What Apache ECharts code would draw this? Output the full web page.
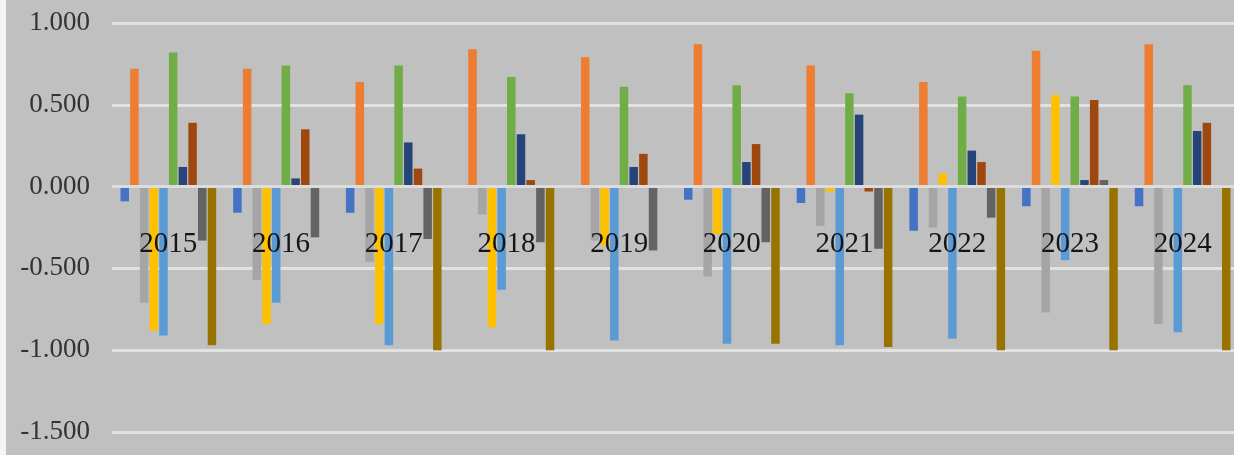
<!DOCTYPE html>
<html>
<head>
<meta charset="utf-8">
<script src="https://cdn.jsdelivr.net/npm/echarts@6/dist/echarts.min.js"></script>
<style>
  html, body { margin: 0; padding: 0; background: #c0c0c0; }
  #chart { width: 1234px; height: 455px; }
</style>
</head>
<body>
<div id="chart"></div>
<script>
// years on the category axis
var years = ['2015', '2016', '2017', '2018', '2019', '2020', '2021', '2022', '2023', '2024']
var yTicks = [-1.5, -1.0, -0.5, 0, 0.5, 1.0]

// ten series, in the order they sit in each group
var series1 = [-0.09, -0.16, -0.16, 0, 0, -0.08, -0.10, -0.27, -0.12, -0.12]
var series2 = [0.72, 0.72, 0.64, 0.84, 0.79, 0.87, 0.74, 0.64, 0.83, 0.87]
var series3 = [-0.71, -0.57, -0.46, -0.17, -0.33, -0.55, -0.24, -0.25, -0.77, -0.84]
var series4 = [-0.88, -0.84, -0.84, -0.86, -0.36, -0.29, -0.03, 0.08, 0.56, 0]
var series5 = [-0.91, -0.71, -0.97, -0.63, -0.94, -0.96, -0.97, -0.93, -0.45, -0.89]
var series6 = [0.82, 0.74, 0.74, 0.67, 0.61, 0.62, 0.57, 0.55, 0.55, 0.62]
var series7 = [0.12, 0.05, 0.27, 0.32, 0.12, 0.15, 0.44, 0.22, 0.04, 0.34]
var series8 = [0.39, 0.35, 0.11, 0.04, 0.20, 0.26, -0.03, 0.15, 0.53, 0.39]
var series9 = [-0.33, -0.31, -0.32, -0.34, -0.39, -0.34, -0.38, -0.19, 0.04, 0]
var series10 = [-0.97, 0, -1.00, -1.00, 0, -0.96, -0.98, -1.00, -1.00, -1.00]

var allSeries = [series1, series2, series3, series4, series5, series6, series7, series8, series9, series10]
var colors = ['#4472c4', '#ed7d31', '#a5a5a5', '#ffc000', '#5b9bd5', '#70ad47', '#264478', '#9e480e', '#636363', '#997300']

var chart = echarts.init(document.getElementById('chart'))

var series = allSeries.map(function (d, i) {
  return {
    name: 'series' + (i + 1),
    type: 'bar',
    data: d,
    barWidth: 8.5,
    barGap: '14%',
    itemStyle: { color: colors[i] }
  }
})
// zero line drawn over the bars, as in the original
series[series.length - 1].markLine = {
  silent: true,
  symbol: 'none',
  label: { show: false },
  lineStyle: { color: '#dcdcdc', width: 3, type: 'solid' },
  data: [{ yAxis: 0 }]
}

chart.setOption({
  backgroundColor: '#c0c0c0',
  animation: false,
  graphic: [{
    type: 'rect',
    shape: { x: 0, y: 0, width: 6, height: 455 },
    style: { fill: '#f4f4f4' }
  }],
  grid: { left: 112, top: 23, width: 1127, bottom: 23, containLabel: false, outerBoundsMode: 'none' },
  xAxis: {
    type: 'category',
    data: years,
    z: 10,
    // labels sit just under the zero line, over the bars
    axisLine: { onZero: false, show: false },
    axisTick: { show: false },
    axisLabel: {
      margin: -202,
      fontFamily: 'Liberation Serif',
      fontSize: 29,
      color: '#151515'
    }
  },
  yAxis: {
    type: 'value',
    min: yTicks[0],
    max: yTicks[yTicks.length - 1],
    interval: 0.5,
    axisLine: { show: false },
    axisTick: { show: false },
    splitLine: { lineStyle: { color: '#e2e2e2', width: 3 } },
    axisLabel: {
      margin: 22,
      fontFamily: 'Liberation Serif',
      fontSize: 27,
      color: '#333',
      formatter: function (v) { return v.toFixed(3) }
    }
  },
  series: series
})
</script>
</body>
</html>
